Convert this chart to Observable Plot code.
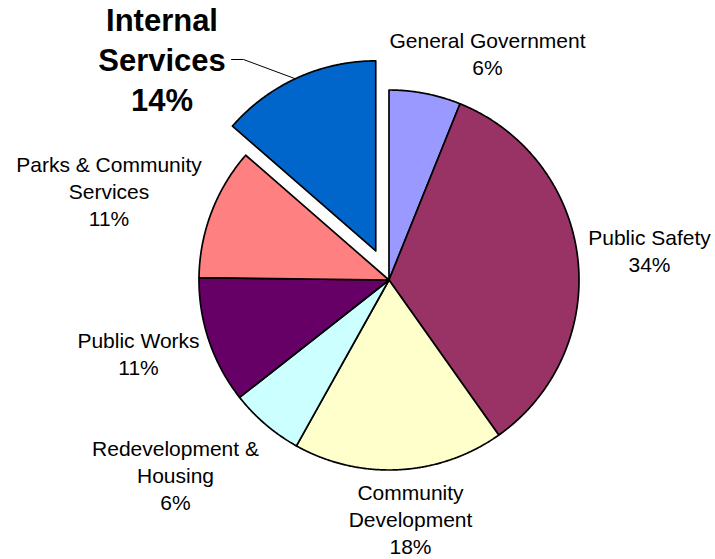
<!DOCTYPE html>
<html>
<head>
<meta charset="utf-8">
<script src="https://cdn.jsdelivr.net/npm/d3@7"></script>
<script src="https://cdn.jsdelivr.net/npm/@observablehq/plot@0.6"></script>
<style>
  html, body { margin: 0; padding: 0; background: #fff; }
  #chart svg { display: block; }
</style>
</head>
<body>
<div id="chart"></div>
<script>
// ---- data ----
const categories = ["General Government", "Public Safety", "Community Development", "Redevelopment & Housing", "Public Works", "Parks & Community Services", "Internal Services"];
const labelText = ["General Government", "Public Safety", "Community\nDevelopment", "Redevelopment &\nHousing", "Public Works", "Parks & Community\nServices", "Internal\nServices"];
const shares = [6.1, 34.1, 17.9, 6.3, 10.8, 11.2, 13.6];
const colors = ["#9999FF", "#993366", "#FFFFCC", "#CCFFFF", "#660066", "#FF8080", "#0066CC"];
const exploded = ["Internal Services"];

// ---- layout ----
const W = 715, H = 559;
const cx = 388.5, cy = 279.5, R = 190, explode = 32;
// label anchor: center x, baseline of last line (px)
const labelAnchor = [[487, 74], [649, 271], [410, 553], [175, 509], [138, 374], [108.5, 225], [161.5, 110]];

const pie = d3.pie().sort(null).value(d => d)(shares);
const slices = pie.map((p, i) => {
  const name = categories[i];
  const mid = (p.startAngle + p.endAngle) / 2;
  const off = exploded.includes(name) ? explode : 0;
  const ox = cx + off * Math.sin(mid), oy = cy - off * Math.cos(mid);
  const pts = [{x: ox, y: oy}];
  const n = Math.max(2, Math.ceil((p.endAngle - p.startAngle) / 0.005));
  for (let k = 0; k <= n; k++) {
    const a = p.startAngle + (p.endAngle - p.startAngle) * k / n;
    pts.push({x: ox + R * Math.sin(a), y: oy - R * Math.cos(a)});
  }
  pts.push({x: ox, y: oy});
  return {name, color: colors[i], pts, mid, ox, oy, off};
});

const labels = categories.map((c, i) => ({
  name: c,
  text: labelText[i] + "\n" + Math.round(shares[i]) + "%",
  x: labelAnchor[i][0],
  y: labelAnchor[i][1],
  bold: exploded.includes(c)
}));

// leader line for exploded label
const ex = slices.find(s => s.off > 0);
const leader = [
  {x: 231, y: 59},
  {x: 243, y: 59},
  {x: ex.ox + R * Math.sin(ex.mid - 0.01), y: ex.oy - R * Math.cos(ex.mid - 0.01)}
];

const font = "'Liberation Sans', Arial, Helvetica, sans-serif";

const marks = [];
slices.forEach(s => {
  marks.push(Plot.line(s.pts, {x: "x", y: "y", fill: s.color, stroke: "#000", strokeWidth: 1.7, strokeLinejoin: "round", curve: "linear"}));
});
marks.push(Plot.line(leader, {x: "x", y: "y", stroke: "#000", strokeWidth: 1}));
marks.push(Plot.text(labels.filter(d => !d.bold), {
  x: "x", y: "y", text: "text", fontSize: 21, lineHeight: 1.28, lineAnchor: "bottom",
  textAnchor: "middle", fill: "#000", fontFamily: font
}));
marks.push(Plot.text(labels.filter(d => d.bold), {
  x: "x", y: "y", text: "text", fontSize: 31, fontWeight: "bold", lineHeight: 1.29, lineAnchor: "bottom",
  textAnchor: "middle", fill: "#000", fontFamily: font
}));

const chart = Plot.plot({
  width: W, height: H,
  margin: 0,
  x: {domain: [0, W], range: [0, W], axis: null},
  y: {domain: [0, H], range: [0, H], axis: null},
  style: {background: "#fff", fontFamily: font, overflow: "visible"},
  marks
});
document.getElementById("chart").appendChild(chart);
</script>
</body>
</html>
